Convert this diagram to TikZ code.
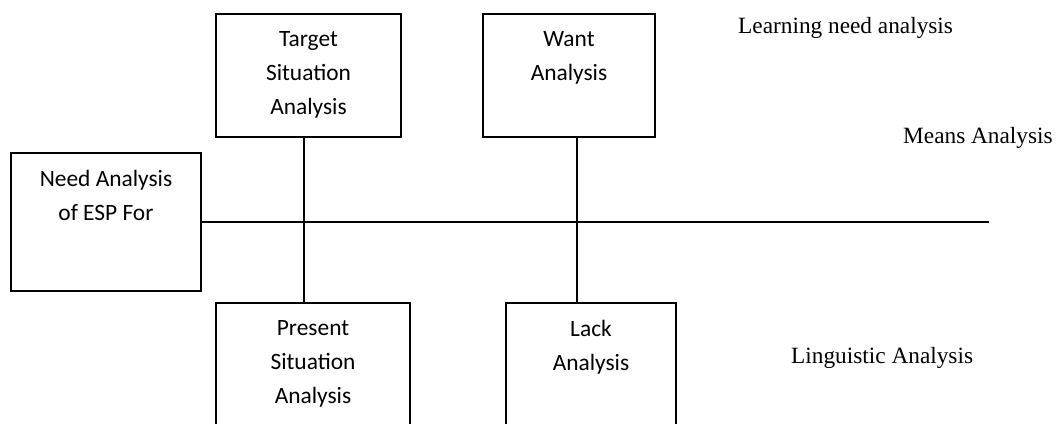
\documentclass[tikz,border=0pt]{standalone}
\usepackage{fontspec}
\setmainfont{Liberation Serif}
\newfontfamily\boxfont{Carlito}
\usetikzlibrary{positioning, calc}

\begin{document}
\begin{tikzpicture}[
  x=1pt, y=-1pt,
  box/.style={draw, line width=2pt, anchor=north west, inner sep=0pt},
  boxtext/.style={anchor=north, yshift=-18.5pt, inner sep=0pt, align=center, font=\boxfont\fontsize{23.4}{34}\selectfont},
  side/.style={anchor=base west, inner sep=0pt, font=\fontsize{23.3}{28}\selectfont},
  link/.style={line width=2pt}
]
  \useasboundingbox (0,0) rectangle (1062,423);

  % Left box
  \node[box, minimum width=190pt, minimum height=138pt, label={[boxtext]north:Need Analysis\\of ESP For}] (need) at (10,152) {};

  % Top row
  \node[box, minimum width=185pt, minimum height=123pt, label={[boxtext]north:Target\\Situation\\Analysis}] (tsa) at (215,13) {};
  \node[box, minimum width=172pt, minimum height=123pt, label={[boxtext]north:Want\\Analysis}] (want) at (482,13) {};

  % Bottom row
  \node[box, minimum width=194pt, minimum height=140pt, label={[boxtext]north:Present\\Situation\\Analysis}] (psa) at (215,302) {};
  \node[box, minimum width=170pt, minimum height=140pt, label={[boxtext]north:Lack\\Analysis}] (lack) at (505,302) {};

  % Connectors
  \coordinate (cross1) at (304,221);
  \coordinate (cross2) at (577,221);
  \coordinate (lineend) at (989,221);
  \draw[link] (need.east) -- (need.east -| lineend);
  \draw[link] (tsa.south -| cross1) -- (psa.north -| cross1);
  \draw[link] (want.south -| cross2) -- (lack.north -| cross2);

  % Labels
  \node[side] (learning) at (738,33) {Learning need analysis};
  \node[side] (means) at (903,143) {Means Analysis};
  \node[side] (linguistic) at (791,363) {Linguistic Analysis};
\end{tikzpicture}
\end{document}
